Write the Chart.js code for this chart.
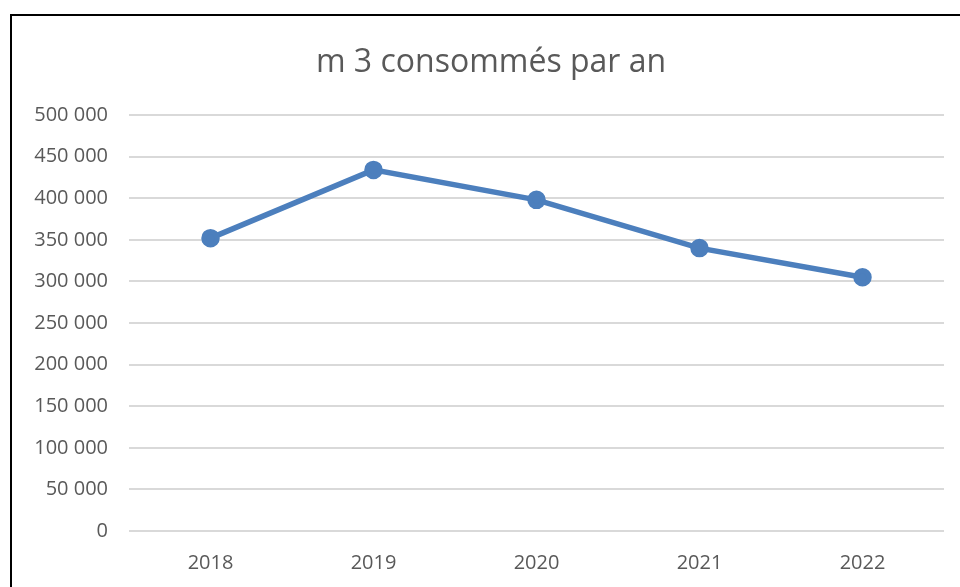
<!DOCTYPE html>
<html>
<head>
<meta charset="utf-8">
<script src="https://cdn.jsdelivr.net/npm/chart.js@4/dist/chart.umd.min.js"></script>
<style>
    body { margin: 0; background: #fff; }
    #wrap { position: absolute; left: 0; top: 0; width: 960px; height: 587px; }
    #frame { position: absolute; left: 10px; top: 14px; width: 970px; height: 600px; border: 2px solid #000; box-sizing: border-box; }
</style>
</head>
<body>
<div id="frame"></div>
<div id="wrap"><canvas id="myChart" width="960" height="587"></canvas></div>
<script>
// data
var years = ['2018', '2019', '2020', '2021', '2022'];
var volumes = [352000, 434000, 398000, 340000, 305000];
var yTicks = [0, 50000, 100000, 150000, 200000, 250000, 300000, 350000, 400000, 450000, 500000];

var textColor = '#595959';
var fontName = "'Open Sans', 'Noto Sans', sans-serif";

// format with a space as thousands separator
function formatNumber(v) {
    return String(v).replace(/\B(?=(\d{3})+(?!\d))/g, ' ');
}

// the title is centred on the framed box, not on the canvas
var titleShift = {
    id: 'titleShift',
    afterLayout: function (chart) {
        if (chart.titleBlock) {
            chart.titleBlock.left += 38;
        }
    }
};

var ctx = document.getElementById('myChart').getContext('2d');
var config = {
    type: 'line',
    data: {
        labels: years,
        datasets: [
            {
                label: 'm3',
                data: volumes,
                borderColor: '#4c7fbd',
                backgroundColor: '#4c7fbd',
                borderWidth: 5.5,
                pointRadius: 6.5,
                pointHoverRadius: 6.5,
                fill: false,
                tension: 0
            }
        ]
    },
    options: {
        responsive: false,
        animation: false,
        layout: {
            padding: { left: 0, right: 16, top: 0, bottom: 0 }
        },
        plugins: {
            legend: { display: false },
            tooltip: { enabled: false },
            title: {
                display: true,
                text: 'm 3 consommés par an',
                color: textColor,
                font: { family: fontName, size: 32, weight: 'normal' },
                padding: { top: 43.8, bottom: 32.8 }
            }
        },
        scales: {
            x: {
                offset: true,
                grid: { display: false, drawTicks: false },
                border: { display: false },
                ticks: {
                    color: textColor,
                    padding: 20,
                    font: { family: fontName, size: 20 }
                },
                afterFit: function (axis) { axis.height = 56; }
            },
            y: {
                min: 0,
                max: 500000,
                grid: { color: '#d9d9d9', lineWidth: 2, drawTicks: false },
                border: { display: false },
                afterBuildTicks: function (axis) {
                    axis.ticks = yTicks.map(function (v) { return { value: v }; });
                },
                ticks: {
                    color: textColor,
                    padding: 21,
                    font: { family: fontName, size: 20 },
                    callback: function (v) { return formatNumber(v); }
                },
                afterFit: function (axis) { axis.width = 129; }
            }
        }
    },
    plugins: [titleShift]
};

var myChart = new Chart(ctx, config);
</script>
</body>
</html>
